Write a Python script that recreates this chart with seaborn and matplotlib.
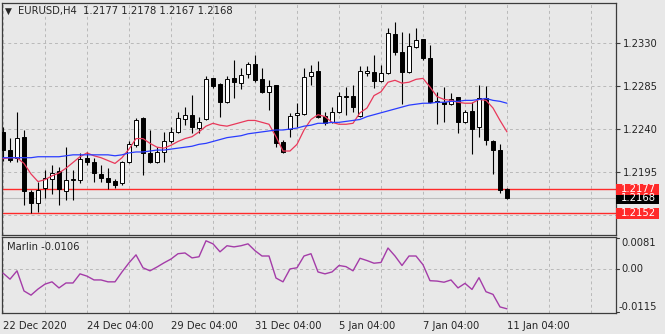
import matplotlib
matplotlib.use("Agg")
import matplotlib.pyplot as plt
from matplotlib.patches import Rectangle
import numpy as np
import pandas as pd
import seaborn as sns

sns.set_style("white")
plt.rcParams['font.family'] = ['DejaVu Sans']

# EURUSD H4 candles
opens = [1.2237, 1.2218, 1.2210, 1.2232, 1.2174, 1.2163, 1.2178, 1.2188, 1.2196, 1.2175,
         1.2187, 1.2187, 1.2210, 1.2206, 1.2193, 1.2189, 1.2186, 1.2183, 1.2205, 1.2223,
         1.2252, 1.2215, 1.2206, 1.2216, 1.2227, 1.2237, 1.2250, 1.2255, 1.2241, 1.2250,
         1.2293, 1.2287, 1.2268, 1.2293, 1.2288, 1.2298, 1.2308, 1.2292, 1.2279, 1.2286,
         1.2226, 1.2240, 1.2255, 1.2256, 1.2296, 1.2301, 1.2254, 1.2247, 1.2258, 1.2274,
         1.2275, 1.2254, 1.2299, 1.2300, 1.2290, 1.2299, 1.2339, 1.2321, 1.2300, 1.2326,
         1.2334, 1.2314, 1.2269, 1.2268, 1.2266, 1.2274, 1.2247, 1.2259, 1.2242, 1.2272,
         1.2227, 1.2218, 1.2177]
highs = [1.2242, 1.2231, 1.2258, 1.2239, 1.2176, 1.2185, 1.2197, 1.2202, 1.2200, 1.2221,
         1.2197, 1.2215, 1.2216, 1.2210, 1.2202, 1.2199, 1.2188, 1.2207, 1.2227, 1.2252,
         1.2253, 1.2239, 1.2221, 1.2237, 1.2242, 1.2258, 1.2263, 1.2276, 1.2253, 1.2296,
         1.2293, 1.2288, 1.2296, 1.2312, 1.2304, 1.2310, 1.2318, 1.2304, 1.2291, 1.2286,
         1.2229, 1.2257, 1.2267, 1.2304, 1.2307, 1.2311, 1.2258, 1.2263, 1.2279, 1.2284,
         1.2286, 1.2306, 1.2306, 1.2318, 1.2307, 1.2346, 1.2352, 1.2342, 1.2341, 1.2346,
         1.2334, 1.2328, 1.2279, 1.2284, 1.2278, 1.2274, 1.2260, 1.2268, 1.2286, 1.2285,
         1.2229, 1.2224, 1.2178]
lows = [1.2207, 1.2205, 1.2205, 1.2160, 1.2152, 1.2153, 1.2168, 1.2172, 1.2160, 1.2166,
        1.2166, 1.2183, 1.2202, 1.2185, 1.2185, 1.2177, 1.2178, 1.2181, 1.2204, 1.2221,
        1.2192, 1.2204, 1.2204, 1.2205, 1.2225, 1.2236, 1.2244, 1.2236, 1.2236, 1.2249,
        1.2283, 1.2253, 1.2267, 1.2272, 1.2282, 1.2293, 1.2289, 1.2278, 1.2260, 1.2221,
        1.2215, 1.2232, 1.2242, 1.2255, 1.2286, 1.2252, 1.2244, 1.2246, 1.2257, 1.2255,
        1.2258, 1.2253, 1.2295, 1.2283, 1.2289, 1.2298, 1.2318, 1.2266, 1.2299, 1.2325,
        1.2312, 1.2267, 1.2245, 1.2247, 1.2265, 1.2236, 1.2246, 1.2214, 1.2232, 1.2223,
        1.2193, 1.2173, 1.2167]
closes = [1.2218, 1.2208, 1.2231, 1.2175, 1.2163, 1.2176, 1.2189, 1.2194, 1.2177, 1.2187,
          1.2188, 1.2209, 1.2205, 1.2194, 1.2189, 1.2185, 1.2181, 1.2205, 1.2224, 1.2249,
          1.2215, 1.2205, 1.2216, 1.2227, 1.2237, 1.2252, 1.2255, 1.2242, 1.2247, 1.2292,
          1.2285, 1.2268, 1.2292, 1.2289, 1.2297, 1.2308, 1.2291, 1.2279, 1.2285, 1.2225,
          1.2216, 1.2254, 1.2257, 1.2294, 1.2300, 1.2253, 1.2246, 1.2258, 1.2275, 1.2275,
          1.2263, 1.2301, 1.2301, 1.2290, 1.2299, 1.2341, 1.2321, 1.2300, 1.2327, 1.2333,
          1.2314, 1.2268, 1.2268, 1.2266, 1.2271, 1.2247, 1.2258, 1.2240, 1.2272, 1.2229,
          1.2218, 1.2176, 1.2168]

# moving averages (fast: red, slow: blue)
ma_fast = [1.2209, 1.2210, 1.2210, 1.2204, 1.2193, 1.2185, 1.2187, 1.2191, 1.2194, 1.2199,
           1.2205, 1.2211, 1.2215, 1.2212, 1.2210, 1.2207, 1.2204, 1.2210, 1.2219, 1.2230,
           1.2230, 1.2225, 1.2221, 1.2220, 1.2223, 1.2227, 1.2230, 1.2232, 1.2237, 1.2243,
           1.2246, 1.2244, 1.2243, 1.2245, 1.2247, 1.2249, 1.2249, 1.2247, 1.2245, 1.2232,
           1.2217, 1.2217, 1.2224, 1.2239, 1.2250, 1.2255, 1.2253, 1.2247, 1.2245, 1.2245,
           1.2246, 1.2257, 1.2262, 1.2275, 1.2279, 1.2289, 1.2291, 1.2288, 1.2289, 1.2292,
           1.2293, 1.2284, 1.2274, 1.2271, 1.2270, 1.2268, 1.2267, 1.2267, 1.2271, 1.2270,
           1.2262, 1.2249, 1.2237]
ma_slow = [1.2210, 1.2210, 1.2210, 1.2210, 1.2210, 1.2211, 1.2211, 1.2211, 1.2211, 1.2212,
           1.2213, 1.2213, 1.2213, 1.2213, 1.2213, 1.2213, 1.2212, 1.2213, 1.2215, 1.2216,
           1.2216, 1.2217, 1.2218, 1.2218, 1.2219, 1.2220, 1.2221, 1.2222, 1.2224, 1.2225,
           1.2227, 1.2229, 1.2231, 1.2232, 1.2233, 1.2235, 1.2236, 1.2237, 1.2238, 1.2239,
           1.2239, 1.2240, 1.2241, 1.2243, 1.2244, 1.2246, 1.2246, 1.2247, 1.2247, 1.2248,
           1.2249, 1.2250, 1.2253, 1.2255, 1.2257, 1.2259, 1.2261, 1.2263, 1.2265, 1.2266,
           1.2267, 1.2267, 1.2268, 1.2268, 1.2269, 1.2269, 1.2270, 1.2270, 1.2271, 1.2272,
           1.2270, 1.2269, 1.2267]

# Marlin oscillator
marlin = [-0.0012, -0.0028, -0.0006, -0.0059, -0.0070, -0.0054, -0.0041, -0.0035, -0.0051, -0.0038,
          -0.0038, -0.0014, -0.0020, -0.0030, -0.0030, -0.0035, -0.0035, -0.0009, 0.0015, 0.0036,
          0.0002, -0.0006, 0.0004, 0.0015, 0.0025, 0.0039, 0.0041, 0.0028, 0.0031, 0.0073,
          0.0065, 0.0044, 0.0060, 0.0057, 0.0060, 0.0065, 0.0047, 0.0033, 0.0033, -0.0025,
          -0.0035, -0.0001, 0.0002, 0.0033, 0.0039, -0.0009, -0.0014, -0.0009, 0.0008, 0.0005,
          -0.0006, 0.0027, 0.0021, 0.0014, 0.0016, 0.0054, 0.0033, 0.0008, 0.0033, 0.0033,
          0.0010, -0.0032, -0.0033, -0.0036, -0.0030, -0.0051, -0.0039, -0.0055, -0.0024, -0.0061,
          -0.0068, -0.0101, -0.0106]

date_labels = ["22 Dec 2020", "24 Dec 04:00", "29 Dec 04:00", "31 Dec 04:00",
               "5 Jan 04:00", "7 Jan 04:00", "11 Jan 04:00"]
date_bars = [0, 12, 24, 36, 48, 60, 72]
price_ticks = [1.2195, 1.2240, 1.2285, 1.2330]
grid_prices = [1.2150, 1.2195, 1.2240, 1.2285, 1.2330]
level_prices = [1.2177, 1.2152]
bid_price = 1.2168
marlin_ticks = [0.0081, 0.00, -0.0115]
symbol_title = "EURUSD,H4  1.2177 1.2178 1.2167 1.2168"

BG = "#e8e8e8"
FRAME = "#3c3c3c"
GRID = "#b9b9b9"
RED = "#ff2a2a"
FS = 7.2

W, H = 665, 334
fig = plt.figure(figsize=(W / 100, H / 100), dpi=100, facecolor=BG)


def px_axes(x0, y0, x1, y1):
    return fig.add_axes([x0 / W, 1 - y1 / H, (x1 - x0) / W, (y1 - y0) / H])


ax = px_axes(2, 3, 616, 235)
ax2 = px_axes(2, 237, 616, 313)

df = pd.DataFrame({"bar": np.arange(len(opens)), "open": opens, "high": highs,
                   "low": lows, "close": closes, "fast": ma_fast, "slow": ma_slow,
                   "marlin": marlin})

xlim = (-1 / 7, 613 / 7)
for a in (ax, ax2):
    a.set_facecolor(BG)
    a.set_xlim(*xlim)
    for s in a.spines.values():
        s.set_color(FRAME)
        s.set_linewidth(0.9)
    for b in range(0, 90, 6):
        a.axvline(b, color=GRID, lw=0.7, ls=(0, (3, 3)), zorder=0)

ax.set_ylim(1.21291, 1.23719)
for p in grid_prices:
    ax.axhline(p, color=GRID, lw=0.7, ls=(0, (3, 3)), zorder=0)

# bid line and price levels
ax.axhline(bid_price, color="#bdbdbd", lw=0.8, zorder=1)
for p in level_prices:
    ax.axhline(p, color=RED, lw=1.0, zorder=1)

# candles
up = df["close"] >= df["open"]
ax.vlines(df["bar"], df["low"], df["high"], color="black", lw=0.8, zorder=2)
body_lo = np.minimum(df["open"], df["close"])
body_h = np.maximum((df["close"] - df["open"]).abs(), 0.00002)
ax.bar(df["bar"][up], body_h[up], bottom=body_lo[up], width=0.62,
       color="white", edgecolor="black", linewidth=0.7, zorder=3)
ax.bar(df["bar"][~up], body_h[~up], bottom=body_lo[~up], width=0.62,
       color="black", edgecolor="black", linewidth=0.7, zorder=3)

sns.lineplot(data=df, x="bar", y="fast", ax=ax, color="#e8385a", lw=0.9,
             estimator=None, zorder=4, legend=False)
sns.lineplot(data=df, x="bar", y="slow", ax=ax, color="#2a3cff", lw=0.9,
             estimator=None, zorder=4, legend=False)

ax.set_xlabel("")
ax.set_ylabel("")
ax.set_xticks([])
ax.yaxis.tick_right()
ax.set_yticks(price_ticks)
ax.set_yticklabels([f"{p:.4f}" for p in price_ticks], fontsize=FS)
ax.tick_params(axis="y", length=3, width=0.8, color=FRAME, pad=2)

# value boxes on the price scale
ytr = ax.get_yaxis_transform()
box_h = 11 / 9556
for p, fc in [(bid_price, "black"), (1.2177, RED), (1.2152, RED)]:
    ax.add_patch(Rectangle((1.0, p - box_h / 2 - (0.00006 if fc == "black" else 0)),
                           43 / 614, box_h + (0.0001 if fc == "black" else 0),
                           transform=ytr, facecolor=fc, edgecolor="none",
                           clip_on=False, zorder=5))
    ax.text(1.0 + 5 / 614, p, f"{p:.4f}", transform=ytr, color="white",
            fontsize=FS, va="center", ha="left", zorder=6, clip_on=False)

# Marlin panel
sns.lineplot(data=df, x="bar", y="marlin", ax=ax2, color="#a43ca8", lw=1.0,
             estimator=None, legend=False, zorder=3)
ax2.set_ylim(-0.0117, 0.0083)
ax2.axhline(0.0, color=GRID, lw=0.7, ls=(0, (3, 3)), zorder=0)
ax2.set_xlabel("")
ax2.set_ylabel("")
ax2.set_yticks([])
ytr2 = ax2.get_yaxis_transform()
for v, va in zip(marlin_ticks, ["top", "center", "bottom"]):
    ax2.text(1.0 + (3 if v < 0 else 5) / 614, v + (0.0001 if va == "bottom" else 0),
             f"{v:.4f}" if v != 0 else "0.00", transform=ytr2,
             fontsize=FS, va=va, ha="left", clip_on=False)
    ax2.plot([1.0, 1.0 + 3 / 614], [v, v], transform=ytr2, color=FRAME, lw=0.8,
             clip_on=False)
ax2.text(5 / 614, 0.93, f"Marlin {marlin[-1]:.4f}", transform=ax2.transAxes,
         fontsize=FS, va="top", ha="left")

ax2.set_xticks(date_bars)
ax2.set_xticklabels(date_labels, fontsize=FS, ha="left")
ax2.tick_params(axis="x", length=3, width=0.8, color=FRAME, pad=2.5)

# symbol header
fig.text(5 / W, 1 - 11 / H, "\u25bc", fontsize=6.5, va="center", ha="left")
fig.text(18 / W, 1 - 11 / H, symbol_title, fontsize=FS, va="center", ha="left")

fig.savefig("out.png", dpi=100, facecolor=BG)
